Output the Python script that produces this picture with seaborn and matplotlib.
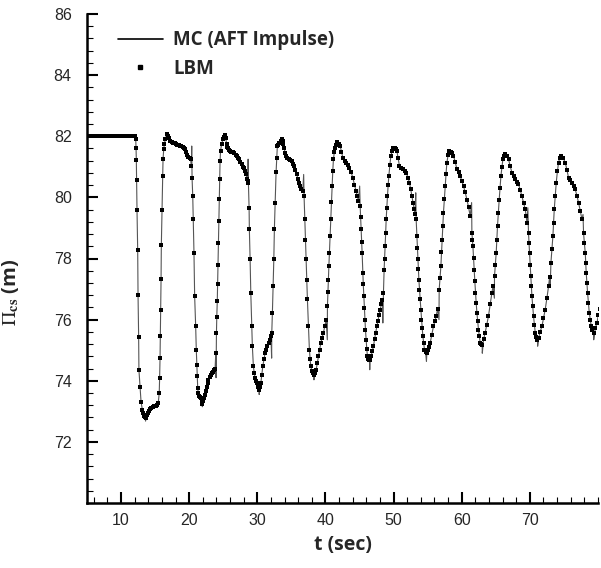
import numpy as np
import pandas as pd
import matplotlib
matplotlib.use('Agg')
import matplotlib.pyplot as plt
import seaborn as sns
from matplotlib.lines import Line2D
from matplotlib.ticker import MultipleLocator

# ── Data ──────────────────────────────────────────────────────────────────────
# steady head before the valve event
flat_t = [5.0, 5.25, 5.5, 5.75, 6.0, 6.25, 6.5, 6.75, 7.0, 7.25, 7.5, 7.75,
          8.0, 8.25, 8.5, 8.75, 9.0, 9.25, 9.5, 9.75, 10.0, 10.25, 10.5,
          10.75, 11.0, 11.25, 11.5, 11.75, 12.0]
flat_h = [82.0] * len(flat_t)

# LBM points, one list per oscillation (t [s], head [m])
lbm_c1 = [(12.05, 82.0), (12.15, 81.92), (12.20, 81.6), (12.24, 81.22), (12.28, 80.56),
          (12.34, 79.58), (12.44, 78.27), (12.49, 76.82), (12.58, 75.43), (12.62, 74.36),
          (12.78, 73.81), (12.93, 73.32), (13.12, 73.05), (13.25, 72.95), (13.41, 72.85),
          (13.52, 72.8), (13.62, 72.77), (13.75, 72.88), (13.90, 72.94), (14.05, 73.0),
          (14.25, 73.07), (14.45, 73.1), (14.63, 73.14), (14.85, 73.16), (15.13, 73.18),
          (15.30, 73.22), (15.46, 73.27), (15.60, 73.6), (15.66, 74.09), (15.72, 74.74),
          (15.76, 75.45), (15.82, 76.33), (15.87, 77.33), (15.91, 78.43), (16.01, 79.59),
          (16.12, 80.7), (16.16, 81.25), (16.26, 81.57), (16.35, 81.74), (16.50, 81.9),
          (16.69, 82.07), (16.85, 82.0), (17.05, 81.95), (17.25, 81.85), (17.43, 81.8),
          (17.65, 81.78), (17.85, 81.77), (18.05, 81.75), (18.25, 81.72), (18.45, 81.7),
          (18.65, 81.69), (18.85, 81.67), (19.05, 81.66), (19.22, 81.62), (19.39, 81.57),
          (19.55, 81.48), (19.70, 81.4), (19.87, 81.33), (20.05, 81.3), (20.21, 81.27),
          (20.32, 81.03), (20.42, 80.64), (20.52, 80.04), (20.60, 79.28), (20.70, 78.19),
          (20.80, 76.77), (20.95, 75.78), (21.04, 75.02), (21.12, 74.5), (21.19, 74.14),
          (21.25, 73.76), (21.33, 73.6), (21.45, 73.5), (21.58, 73.46), (21.70, 73.43),
          (21.82, 73.33), (21.93, 73.25), (22.08, 73.35), (22.20, 73.45), (22.33, 73.54),
          (22.45, 73.68), (22.58, 73.81), (22.70, 73.93), (22.81, 74.03), (23.0, 74.12),
          (23.21, 74.2), (23.38, 74.25), (23.55, 74.3), (23.70, 74.36), (23.80, 74.4)]

lbm_c2 = [(23.90, 74.9), (24.0, 75.57), (24.05, 76.1), (24.12, 76.6), (24.17, 77.15),
          (24.22, 77.8), (24.30, 78.51), (24.36, 79.22), (24.42, 79.96), (24.47, 80.59),
          (24.53, 81.19), (24.60, 81.52), (24.75, 81.74), (24.95, 81.9), (25.08, 81.98),
          (25.21, 82.03), (25.35, 81.95), (25.50, 81.74), (25.62, 81.65), (25.75, 81.6),
          (25.87, 81.55), (25.99, 81.52), (26.2, 81.5), (26.4, 81.47), (26.6, 81.44),
          (26.8, 81.4), (26.97, 81.36), (27.15, 81.3), (27.3, 81.25), (27.5, 81.16),
          (27.7, 81.08), (27.85, 81.0), (28.0, 80.95), (28.15, 80.85), (28.35, 80.75),
          (28.5, 80.6), (28.6, 80.54), (28.69, 80.48), (28.79, 79.66), (28.83, 78.95),
          (28.94, 77.97), (29.04, 76.88), (29.19, 75.78), (29.27, 75.13), (29.42, 74.47),
          (29.55, 74.25), (29.67, 74.09), (29.85, 74.0), (30.01, 73.92), (30.15, 73.8),
          (30.26, 73.7), (30.4, 73.8), (30.51, 73.92), (30.65, 74.2), (30.8, 74.47),
          (30.97, 74.7), (31.14, 74.91), (31.3, 75.02), (31.48, 75.13), (31.67, 75.24),
          (31.87, 75.34), (32.0, 75.45)]

lbm_c3 = [(32.12, 75.57), (32.21, 76.22), (32.31, 77.1), (32.42, 77.97), (32.5, 78.95),
          (32.61, 79.83), (32.75, 80.82), (32.85, 81.3), (32.94, 81.69), (33.1, 81.73),
          (33.24, 81.77), (33.42, 81.85), (33.59, 81.92), (33.72, 81.85), (33.83, 81.74),
          (33.95, 81.6), (34.08, 81.46), (34.25, 81.37), (34.41, 81.3), (34.6, 81.26),
          (34.8, 81.23), (35.06, 81.19), (35.25, 81.1), (35.4, 81.03), (35.6, 80.9),
          (35.79, 80.75), (35.95, 80.6), (36.1, 80.48), (36.28, 80.37), (36.48, 80.28),
          (36.67, 80.2), (36.86, 80.04), (36.97, 79.28), (37.06, 78.62), (37.16, 77.97),
          (37.26, 77.31), (37.35, 76.66), (37.5, 75.78), (37.64, 75.02), (37.75, 74.7),
          (37.85, 74.47), (38.0, 74.33), (38.14, 74.25), (38.3, 74.2), (38.45, 74.25),
          (38.63, 74.36), (38.8, 74.58), (38.96, 74.8), (39.15, 75.02), (39.32, 75.24),
          (39.5, 75.4), (39.7, 75.57), (39.9, 75.78), (40.1, 76.0)]

lbm_c4 = [(40.29, 76.44), (40.36, 76.9), (40.43, 77.31), (40.5, 77.75), (40.58, 78.19),
          (40.68, 78.75), (40.79, 79.28), (40.88, 79.85), (40.98, 80.37), (41.07, 80.85),
          (41.17, 81.25), (41.3, 81.48), (41.42, 81.63), (41.6, 81.73), (41.76, 81.8),
          (41.95, 81.76), (42.15, 81.69), (42.35, 81.5), (42.55, 81.3), (42.8, 81.2),
          (43.03, 81.14), (43.28, 81.06), (43.52, 80.97), (43.77, 80.82), (44.02, 80.64),
          (44.25, 80.42), (44.5, 80.2), (44.67, 80.05), (44.84, 79.88), (45.09, 79.72),
          (45.16, 79.35), (45.23, 78.95), (45.3, 78.55), (45.38, 78.19), (45.48, 77.53),
          (45.55, 77.15), (45.63, 76.77), (45.7, 76.38), (45.78, 76.0), (45.87, 75.67),
          (45.97, 75.34), (46.06, 75.05), (46.16, 74.8), (46.3, 74.72), (46.45, 74.69),
          (46.56, 74.69), (46.7, 74.8), (46.87, 74.96), (47.04, 75.13), (47.2, 75.35),
          (47.37, 75.57), (47.54, 75.78), (47.7, 75.96), (47.87, 76.15), (48.03, 76.33),
          (48.2, 76.5), (48.35, 76.65)]

lbm_c5 = [(48.51, 76.88), (48.61, 77.64), (48.68, 78.0), (48.76, 78.4), (48.84, 78.85),
          (48.91, 79.28), (49.0, 79.65), (49.1, 80.04), (49.2, 80.4), (49.3, 80.7),
          (49.45, 81.05), (49.6, 81.36), (49.8, 81.52), (49.98, 81.6), (50.15, 81.6),
          (50.3, 81.57), (50.48, 81.52), (50.65, 81.3), (50.86, 81.03), (51.1, 80.97),
          (51.36, 80.92), (51.6, 80.87), (51.85, 80.81), (52.1, 80.65), (52.33, 80.48),
          (52.5, 80.28), (52.68, 80.04), (52.85, 79.83), (53.02, 79.61), (53.15, 79.45),
          (53.31, 79.28), (53.42, 78.73), (53.49, 78.35), (53.56, 77.97), (53.63, 77.65),
          (53.71, 77.31), (53.8, 76.98), (53.9, 76.66), (54.0, 76.33), (54.09, 76.0),
          (54.2, 75.72), (54.3, 75.45), (54.42, 75.22), (54.53, 75.02), (54.7, 74.93),
          (54.88, 74.9), (55.05, 75.0), (55.2, 75.12), (55.37, 75.24), (55.6, 75.5),
          (55.85, 75.78), (56.05, 75.95), (56.25, 76.11), (56.45, 76.35)]

lbm_c6 = [(56.69, 76.98), (56.81, 77.35), (56.94, 77.75), (57.03, 78.2), (57.13, 78.62),
          (57.22, 79.05), (57.32, 79.5), (57.45, 79.95), (57.57, 80.37), (57.7, 80.78),
          (57.82, 81.14), (58.0, 81.38), (58.2, 81.52), (58.4, 81.5), (58.6, 81.45),
          (58.79, 81.36), (59.05, 81.15), (59.29, 80.92), (59.53, 80.82), (59.77, 80.7),
          (60.0, 80.55), (60.26, 80.37), (60.5, 80.17), (60.76, 79.93), (61.0, 79.68),
          (61.24, 79.39), (61.49, 78.84), (61.57, 78.62), (61.64, 78.4), (61.73, 78.02),
          (61.83, 77.64), (61.92, 77.26), (62.02, 76.88), (62.12, 76.55), (62.23, 76.22),
          (62.35, 75.94), (62.46, 75.67), (62.58, 75.45), (62.71, 75.24), (62.85, 75.2),
          (63.0, 75.18), (63.2, 75.35), (63.44, 75.57), (63.68, 75.84), (63.92, 76.11),
          (64.18, 76.5), (64.43, 76.88), (64.6, 77.1)]

lbm_c7 = [(64.81, 77.42), (64.94, 77.8), (65.06, 78.19), (65.15, 78.62), (65.25, 79.06),
          (65.37, 79.5), (65.5, 79.93), (65.62, 80.32), (65.75, 80.7), (65.9, 81.0),
          (66.04, 81.25), (66.2, 81.35), (66.38, 81.41), (66.6, 81.35), (66.87, 81.25),
          (67.1, 81.03), (67.37, 80.81), (67.6, 80.7), (67.85, 80.59), (68.1, 80.5),
          (68.33, 80.43), (68.58, 80.25), (68.83, 80.04), (69.07, 79.83), (69.32, 79.61),
          (69.45, 79.4), (69.57, 79.17), (69.8, 78.84), (69.87, 78.5), (69.95, 78.19),
          (70.05, 77.8), (70.15, 77.42), (70.22, 77.1), (70.3, 76.77), (70.42, 76.44),
          (70.54, 76.11), (70.66, 75.84), (70.79, 75.57), (70.95, 75.42), (71.12, 75.34),
          (71.3, 75.4), (71.5, 75.6), (71.77, 75.78), (72.0, 76.05), (72.25, 76.33),
          (72.5, 76.7), (72.74, 77.09), (72.9, 77.4)]

lbm_c8 = [(73.09, 77.86), (73.24, 78.3), (73.38, 78.73), (73.48, 79.17), (73.58, 79.61),
          (73.72, 80.05), (73.87, 80.48), (74.04, 80.85), (74.21, 81.14), (74.4, 81.3),
          (74.6, 81.36), (74.9, 81.28), (75.19, 81.14), (75.44, 80.9), (75.68, 80.64),
          (75.92, 80.56), (76.17, 80.48), (76.42, 80.38), (76.66, 80.26), (76.9, 80.06),
          (77.14, 79.83), (77.4, 79.56), (77.64, 79.28), (77.88, 78.84), (78.0, 78.5),
          (78.13, 78.19), (78.2, 77.86), (78.27, 77.53), (78.37, 77.2), (78.47, 76.88),
          (78.6, 76.55), (78.72, 76.22), (78.86, 76.0), (79.01, 75.78), (79.18, 75.65),
          (79.35, 75.57), (79.6, 75.72), (79.85, 75.89), (80.05, 76.15), (80.25, 76.35)]

# MC line departs from the LBM points at the impulse spikes and the sharp troughs
mc_spikes = [(20.37, 81.68), (28.65, 81.25), (36.8, 80.75), (45.02, 80.37), (53.25, 80.15),
             (61.45, 79.83), (69.7, 79.66), (77.8, 79.44),
             (13.6, 72.68), (21.93, 73.15), (30.27, 73.55), (38.31, 74.03), (46.5, 74.36),
             (54.82, 74.63), (63.02, 74.9), (71.14, 75.13), (79.37, 75.34),
             (23.94, 74.1), (32.1, 74.74), (40.27, 75.34), (48.42, 75.89), (56.66, 76.0),
             (64.79, 76.7), (72.99, 77.1)]

# ── Assemble ───────────────────────────────────────────────────────────────────
lbm_pts = np.array(lbm_c1 + lbm_c2 + lbm_c3 + lbm_c4 + lbm_c5 + lbm_c6 + lbm_c7 + lbm_c8)
lbm_df = pd.DataFrame({'t': np.concatenate([flat_t, lbm_pts[:, 0]]),
                       'h': np.concatenate([flat_h, lbm_pts[:, 1]])})
spike_df = pd.DataFrame(mc_spikes, columns=['t', 'h'])
mc_df = pd.concat([lbm_df, spike_df]).sort_values('t').reset_index(drop=True)

# ── Plot ───────────────────────────────────────────────────────────────────────
sns.set_style('white')
plt.rcParams['font.family'] = ['Liberation Sans', 'DejaVu Sans']
plt.rcParams['mathtext.fontset'] = 'stix'

fig = plt.figure(figsize=(6.01, 5.68), dpi=100)
ax = fig.add_axes([87 / 601, 1 - 503 / 568, 511 / 601, 489 / 568])

sns.lineplot(data=mc_df, x='t', y='h', sort=False, estimator=None,
             color='#555555', linewidth=0.8, ax=ax, legend=False)
sns.scatterplot(data=lbm_df, x='t', y='h', marker='s', s=6.5, color='black',
                linewidth=0, ax=ax, legend=False, zorder=3)

ax.set_xlim(5, 80)
ax.set_ylim(70, 86)
ax.set_xticks(range(10, 80, 10))
ax.set_yticks(range(72, 87, 2))
ax.xaxis.set_minor_locator(MultipleLocator(2))
ax.yaxis.set_minor_locator(MultipleLocator(0.4))
ax.tick_params(which='major', direction='in', length=8, width=1.5, labelsize=11.5, color='black')
ax.tick_params(which='minor', direction='in', length=4, width=0.8, color='black')
ax.tick_params(axis='x', which='major', pad=7)
ax.tick_params(axis='y', which='major', pad=11)
ax.tick_params(which='both', top=False, right=False, bottom=True, left=True)

for side in ['top', 'right']:
    ax.spines[side].set_visible(False)
for side in ['left', 'bottom']:
    ax.spines[side].set_linewidth(1.8)
    ax.spines[side].set_color('black')

ax.set_xlabel('t (sec)', fontsize=14, fontweight='bold', family='Open Sans', labelpad=5)
ax.set_ylabel(r'$\Pi_{\mathbf{cs}}$ (m)', fontsize=14.5, fontweight='bold', family='Open Sans')
ax.yaxis.set_label_coords(-0.13, 0.43)

handles = [Line2D([0], [0], color='black', linewidth=1.2),
           Line2D([0], [0], marker='s', linestyle='', color='black', markersize=3.5)]
ax.legend(handles, ['MC (AFT Impulse)', 'LBM'], loc='upper left', bbox_to_anchor=(0.06, 0.967),
          frameon=False, handlelength=2.4, handletextpad=0.55, labelspacing=0.45,
          borderpad=0, borderaxespad=0, prop={'family': 'Open Sans', 'weight': 'bold', 'size': 13.5})

plt.savefig('out.png', dpi=100)
plt.close()
